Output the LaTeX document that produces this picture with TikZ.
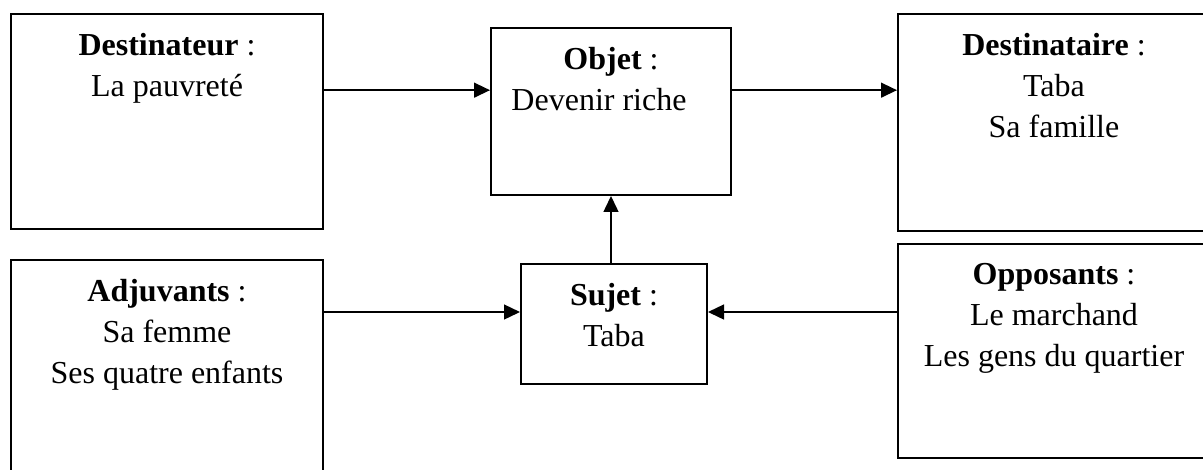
\documentclass[tikz,border=0pt]{standalone}
\usepackage{fontspec}
\setmainfont{Liberation Serif}
\usetikzlibrary{arrows.meta,positioning}

\begin{document}
\begin{tikzpicture}[x=0.375pt,y=-0.375pt,>={Triangle[length=6pt,width=5.6pt]},
boite/.style ={rectangle, draw=black, line width=0.75pt, minimum width=117pt, minimum height=80.25pt, inner sep=0pt},
etiq/.style ={align=center, inner sep=0pt, font=\fontsize{12}{15.4}\selectfont, execute at begin node=\strut},
fleche/.style ={->, line width=0.6pt}
]
\useasboundingbox (0,0) rectangle (1203,469);
\clip (0,0) rectangle (1203,469);
% cases
\draw (167,121.5) node[boite, minimum height=80.6pt] (D) {};
\draw (611,111.5) node[boite, minimum width=90pt, minimum height=62.6pt] (O) {};
\draw (1054,122.5) node[boite, minimum height=81.4pt] (Dt) {};
\draw (167,367) node[boite] (A) {};
\draw (614,324) node[boite, minimum width=69.75pt, minimum height=45pt] (S) {};
\draw (1054,351) node[boite] (Op) {};
% textes
\node[etiq, below=7.4pt of D.north] (tD) {\textbf{Destinateur} :\\La pauvreté};
\node[etiq, below=7.4pt of O.north] (tO) {\textbf{Objet} :\\Devenir riche\hspace*{9pt}};
\node[etiq, below=7.4pt of Dt.north] (tDt) {\textbf{Destinataire} :\\Taba\\Sa famille};
\node[etiq, below=7.4pt of A.north] (tA) {\textbf{Adjuvants} :\\Sa femme\\Ses quatre enfants};
\node[etiq, below=7.4pt of S.north] (tS) {\textbf{Sujet} :\\Taba};
\node[etiq, below=7.4pt of Op.north] (tOp) {\textbf{Opposants} :\\Le marchand\\Les gens du quartier};
% fleches
\coordinate (hO) at ([yshift=8pt]O.west);
\coordinate (hS) at ([yshift=4.5pt]S.west);
\draw[fleche] (D.east |- hO) -- (hO);
\draw[fleche] (O.east |- hO) -- (Dt.west |- hO);
\draw[fleche] (A.east |- hS) -- (hS);
\draw[fleche] (Op.west |- hS) -- (S.east |- hS);
\draw[fleche] (S.north -| O.south) -- (O.south);
\end{tikzpicture}
\end{document}
